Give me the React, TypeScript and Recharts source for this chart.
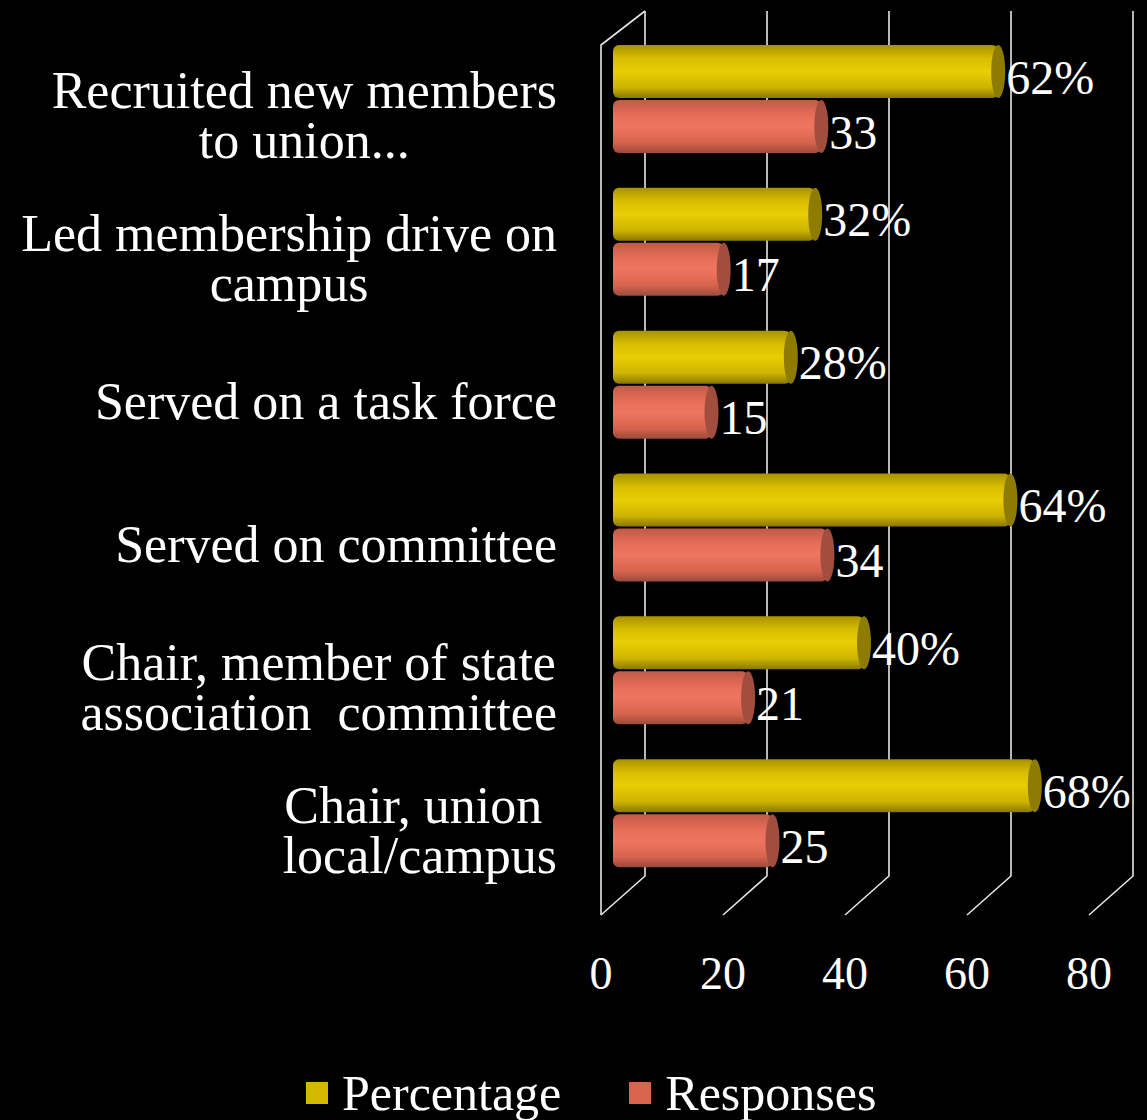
import React from "react"
import { BarChart, Bar, XAxis, YAxis, CartesianGrid, Legend, LabelList } from "recharts"

const categories = [
    "Recruited new members\nto union...",
    "Led membership drive on\ncampus",
    "Served on a task force",
    "Served on committee",
    "Chair, member of state\nassociation  committee",
    "Chair, union \nlocal/campus",
]
const percentage = [62, 32, 28, 64, 40, 68]
const responses = [33, 17, 15, 34, 21, 25]
const xTicks = [0, 20, 40, 60, 80]
const seriesNames = ["Percentage", "Responses"]

const FONT = '"Liberation Serif", "Times New Roman", serif'
const GOLD = "#E2C800"
const SALMON = "#E8705A"

const data = categories.map((name, i) => ({
    name,
    percentage: percentage[i],
    responses: responses[i],
}))

// measure text so multi-line labels are centered on their longest line
let ctx: CanvasRenderingContext2D | null = null
function textWidth(s: string, size: number) {
    if (!ctx) ctx = document.createElement("canvas").getContext("2d")
    if (!ctx) return s.length * size * 0.45
    ctx.font = `${size}px ${FONT}`
    return ctx.measureText(s).width
}

function CategoryTick(props: any) {
    const { x, y, payload } = props
    const lines: string[] = String(payload.value).split("\n")
    const size = 52
    const maxW = Math.max(...lines.map((l) => textWidth(l, size)))
    const right = x - 63
    const cx = right - maxW / 2
    const mid = y + 18
    const start = mid - ((lines.length - 1) * 50) / 2 + 16
    return (
        <text fill="#fff" fontFamily={FONT} fontSize={size} textAnchor="middle" style={{ whiteSpace: "pre" }}>
            {lines.map((l, i) => (
                <tspan key={i} x={cx} y={start + i * 50}>{l}</tspan>
            ))}
        </text>
    )
}

function ValueTick(props: any) {
    const { x, y, payload } = props
    return (
        <text x={x - 19} y={y + 104} fill="#fff" fontFamily={FONT} fontSize={46} textAnchor="middle">
            {payload.value}
        </text>
    )
}

// back wall line + floor slant, gives the 3d frame look
function GridLine(props: any) {
    const { x1, y1, y2, index } = props
    const top = Math.min(y1, y2) - 17
    const bottom = Math.max(y1, y2) - 9
    const bx = x1 + 25
    const stroke = "#e6e6e6"
    return (
        <g key={`g-${index}`}>
            <polyline points={`${bx},${top} ${bx},${bottom} ${bx - 44},${bottom + 39}`} fill="none" stroke={stroke} strokeWidth={1.6} />
            {index === 0 && (
                <polyline
                    points={`${bx},${top} ${bx - 44},${top + 34} ${bx - 44},${bottom + 39}`}
                    fill="none"
                    stroke={stroke}
                    strokeWidth={1.6}
                />
            )}
        </g>
    )
}

function Cylinder(props: any) {
    const { x, y, width, height, grad, cap } = props
    if (!width || width <= 0) return null
    const left = x - 7
    const right = x + width
    return (
        <g>
            <rect x={left} y={y} width={right - left} height={height} rx={6} ry={6} fill={`url(#${grad})`} />
            <ellipse cx={right} cy={y + height / 2} rx={7} ry={height / 2} fill={cap} />
        </g>
    )
}

function makeLabel(suffix: string) {
    return (props: any) => {
        const { x, y, width, height, value } = props
        return (
            <text x={x + width + 8} y={y + height / 2 + 22} fill="#fff" fontFamily={FONT} fontSize={48}>
                {value}
                {suffix}
            </text>
        )
    }
}

function LegendContent() {
    const colors = [GOLD, SALMON]
    return (
        <div style={{ display: "flex", alignItems: "center", fontFamily: FONT, fontSize: 50, color: "#fff", lineHeight: "50px" }}>
            {seriesNames.map((n, i) => (
                <div key={n} style={{ display: "flex", alignItems: "center", marginRight: 68 }}>
                    <span style={{ display: "inline-block", width: 22, height: 22, background: i === 0 ? "#D4B800" : "#D8644C", marginRight: 14 }} />
                    <span>{n}</span>
                </div>
            ))}
        </div>
    )
}

export default function App() {
    return (
        <div style={{ position: "absolute", left: 0, top: 0, width: 1147, height: 1120, background: "#000", overflow: "hidden" }}>
            <BarChart
                layout="vertical"
                width={1147}
                height={1120}
                data={data}
                margin={{ top: 28, right: 39, left: 0, bottom: 135 }}
                barSize={53}
                barGap={2}
            >
                <defs>
                    <linearGradient id="goldGrad" x1="0" y1="0" x2="0" y2="1">
                        <stop offset="0%" stopColor="#A89200" />
                        <stop offset="25%" stopColor="#D8BE00" />
                        <stop offset="50%" stopColor="#E8CE04" />
                        <stop offset="80%" stopColor="#CDB400" />
                        <stop offset="100%" stopColor="#8A7800" />
                    </linearGradient>
                    <linearGradient id="salmonGrad" x1="0" y1="0" x2="0" y2="1">
                        <stop offset="0%" stopColor="#C05A48" />
                        <stop offset="30%" stopColor="#E86E58" />
                        <stop offset="50%" stopColor="#EE765F" />
                        <stop offset="80%" stopColor="#D8644E" />
                        <stop offset="100%" stopColor="#9C4A3A" />
                    </linearGradient>
                </defs>
                <CartesianGrid horizontal={false} vertical={GridLine} />
                <XAxis
                    type="number"
                    domain={[0, 80]}
                    ticks={xTicks}
                    axisLine={false}
                    tickLine={false}
                    tickSize={0}
                    tickMargin={0}
                    height={100}
                    tick={ValueTick}
                />
                <YAxis
                    type="category"
                    dataKey="name"
                    width={620}
                    axisLine={false}
                    tickLine={false}
                    tickSize={0}
                    tickMargin={0}
                    tick={CategoryTick}
                    interval={0}
                />
                <Legend
                    verticalAlign="middle"
                    align="center"
                    content={LegendContent}
                    wrapperStyle={{ top: 1068, left: 306, width: 800 }}
                />
                <Bar
                    dataKey="percentage"
                    name={seriesNames[0]}
                    fill={GOLD}
                    isAnimationActive={false}
                    shape={(p: any) => <Cylinder {...p} grad="goldGrad" cap="#8E7C00" />}
                >
                    <LabelList dataKey="percentage" content={makeLabel("%")} />
                </Bar>
                <Bar
                    dataKey="responses"
                    name={seriesNames[1]}
                    fill={SALMON}
                    isAnimationActive={false}
                    shape={(p: any) => <Cylinder {...p} grad="salmonGrad" cap="#A24E3E" />}
                >
                    <LabelList dataKey="responses" content={makeLabel("")} />
                </Bar>
            </BarChart>
        </div>
    )
}
